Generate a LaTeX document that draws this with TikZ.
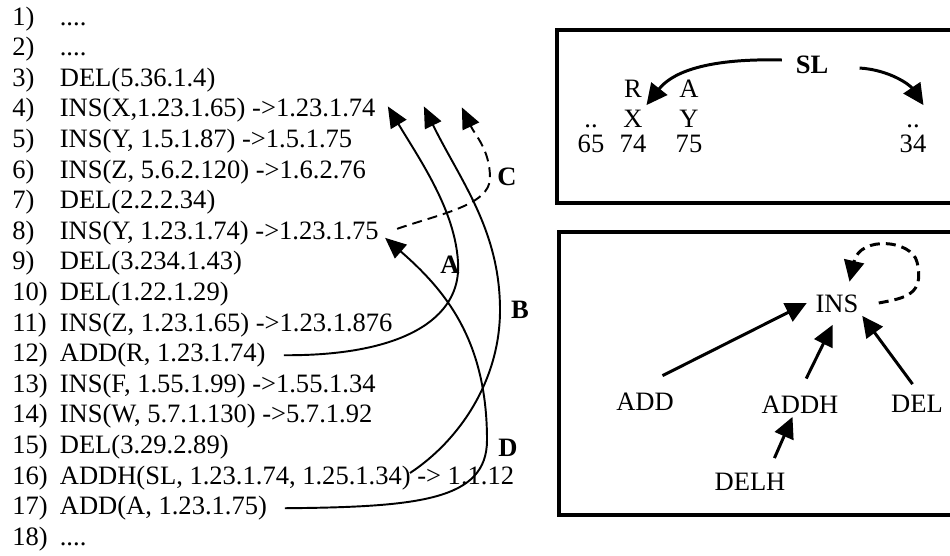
\documentclass[tikz,border=0pt]{standalone}
\usepackage{fontspec}
\setmainfont{Liberation Serif}
\usepackage{tikz}
\usetikzlibrary{arrows.meta}
\usetikzlibrary{positioning}
\tikzstyle{num}=[anchor=base west,inner sep=0pt]
\tikzstyle{entry}=[anchor=base west,inner sep=0pt]
\tikzstyle{op}=[anchor=base,text height=0.36cm,text depth=0pt,inner sep=2pt]
\tikzstyle{link} = [draw,line width=1.1pt,-{Triangle[length=0.42cm,width=0.36cm]}]
\tikzstyle{dashedlink} = [link,dash pattern=on 0.2cm off 0.12cm]
\tikzstyle{edge} = [draw,line width=1.7pt,-{Triangle[length=0.42cm,width=0.4cm]}]
\tikzstyle{panel} = [draw,line width=2.4pt]

\begin{document}
\begin{tikzpicture}[font=\fontsize{15.1pt}{18pt}\selectfont]
    \useasboundingbox (0,0) rectangle (19,-11.1);
    % The numbered list of operations
    \foreach \n/\txt in {1/{....}, 2/{....}, 3/{DEL(5.36.1.4)},
    4/{INS(X,1.23.1.65) ->1.23.1.74}, 5/{INS(Y, 1.5.1.87) ->1.5.1.75},
    6/{INS(Z, 5.6.2.120) ->1.6.2.76}, 7/{DEL(2.2.2.34)},
    8/{INS(Y, 1.23.1.74) ->1.23.1.75}, 9/{DEL(3.234.1.43)}, 10/{DEL(1.22.1.29)},
    11/{INS(Z, 1.23.1.65) ->1.23.1.876}, 12/{ADD(R, 1.23.1.74)},
    13/{INS(F, 1.55.1.99) ->1.55.1.34}, 14/{INS(W, 5.7.1.130) ->5.7.1.92},
    15/{DEL(3.29.2.89)}, 16/{ADDH(SL, 1.23.1.74, 1.25.1.34) -> 1.1.12},
    17/{ADD(A, 1.23.1.75)}, 18/{....}}
    {
        \node[num] (n\n) at (0.24,{-0.5-0.612*(\n-1)}) {\n)};
        \node[entry] (t\n) at (1.19,{-0.5-0.612*(\n-1)}) {\txt};
    }

    % Dependencies between the operations
    \coordinate (bstart) at (8.2,-9.46);
    \draw[link] ([xshift=0.36cm]t12.east) .. controls (8.0,-7.12) and (9.24,-6.4) .. (9.16,-5.24)
        .. controls (9.1,-4.2) and (8.4,-3.2) .. ([shift={(0.24,0.08)}]t4.east);
    \draw[link] (bstart) .. controls (9.2,-8.8) and (10,-7.6) .. (10,-6.2)
        .. controls (10,-4.6) and (9.2,-3.6) .. ([shift={(0.96,0.08)}]t4.east);
    \draw[dashedlink] ([shift={(0.36,0.08)}]t8.east) .. controls (8.8,-4.28) and (9.8,-4.1) .. (9.8,-3.56)
        .. controls (9.8,-3.0) and (9.5,-2.7) .. ([shift={(1.72,0.06)}]t4.east);
    \draw[link] ([xshift=0.35cm]t17.east) .. controls (8.4,-10.14) and (9.74,-10.0) .. (9.74,-8.8)
        .. controls (9.74,-6.8) and (8.9,-5.8) .. ([shift={(0.12,-0.1)}]t8.east);
    \node (la) at (9.0,-5.3) {\textbf{A}};
    \node (lb) at (10.4,-6.2) {\textbf{B}};
    \node (lc) at (10.14,-3.54) {\textbf{C}};
    \node (ld) at (10.16,-8.96) {\textbf{D}};

    % Upper panel: the list SL with its entries
    \draw[panel] (11.14,-0.6) rectangle (19.3,-4.06);
    \node[op] (sl) at (16.24,-1.46) {\textbf{SL}};
    \foreach \name/\x/\y/\label in {r/12.66/1.94/R, a/13.78/1.94/A,
    ldots/11.82/2.54/.., x/12.66/2.54/X, y/13.78/2.54/Y, rdots/18.26/2.54/..,
    n65/11.82/3.04/65, n74/12.66/3.04/74, n75/13.78/3.04/75, n34/18.26/3.04/34}
        \node[op] (\name) at (\x,-\y) {\label};
    \draw[edge] ([shift={(-0.2,0.08)}]sl.west) .. controls (14.0,-1.16) and (13.4,-1.5) .. (x.north east);
    \draw[edge] ([shift={(0.55,-0.08)}]sl.east) .. controls (17.8,-1.4) and (18.2,-1.7) .. (rdots.north east);

    % Lower panel: which operations depend on which
    \draw[panel] (11.18,-4.64) rectangle (19.3,-10.3);
    \node[op] (ins) at (16.74,-6.24) {INS};
    \node[op] (add) at (12.9,-8.2) {ADD};
    \node[op] (addh) at (16.0,-8.26) {ADDH};
    \node[op] (del) at (18.34,-8.24) {DEL};
    \node[op] (delh) at (15.0,-9.8) {DELH};
    \draw[edge] ([shift={(0.35,0.25)}]add.north) -- ([xshift=-0.1cm]ins.west);
    \draw[edge,shorten <=0.28cm,shorten >=0.2cm] (addh.north) -- (ins.south);
    \draw[edge,shorten <=0.15cm] (del.north) -- (ins.south east);
    \draw[edge,shorten <=0.22cm] ([xshift=0.4cm]delh.north) -- ([xshift=-0.15cm]addh.south);
    \draw[edge,dash pattern=on 0.2cm off 0.12cm] ([xshift=0.33cm]ins.east) .. controls (18.1,-5.96) and (18.5,-5.9) .. (18.34,-5.24)
        .. controls (18.24,-4.8) and (17.2,-4.7) .. ([shift={(0.25,0.17)}]ins.north);
\end{tikzpicture}
\end{document}
